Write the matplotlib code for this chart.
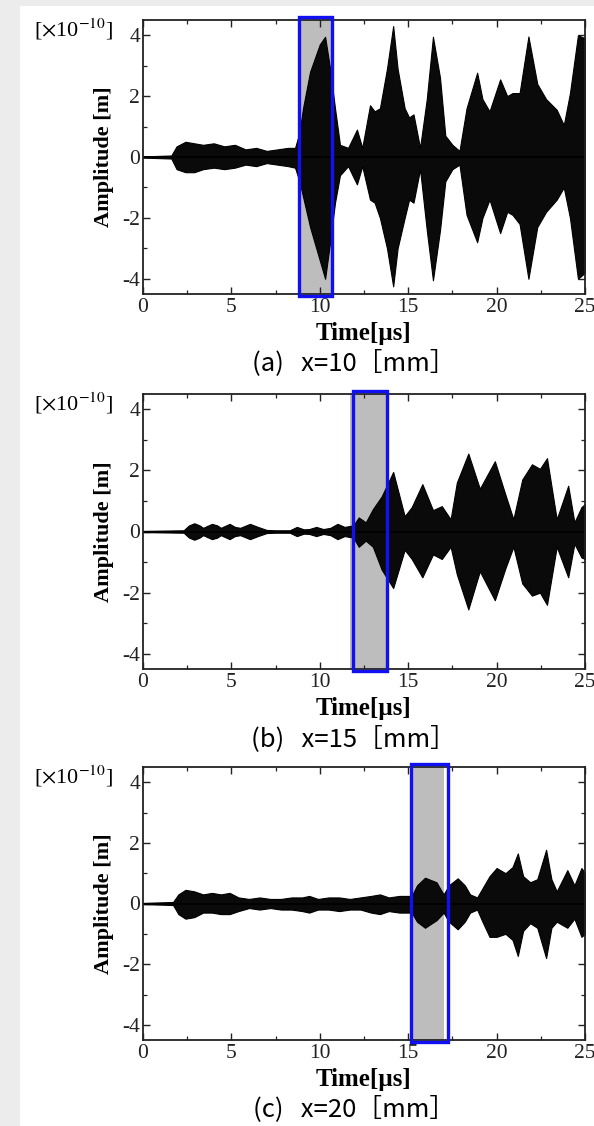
import matplotlib
matplotlib.use("Agg")
import matplotlib.pyplot as plt
from matplotlib.patches import Rectangle
from matplotlib.ticker import MultipleLocator

plt.rcParams['mathtext.fontset'] = 'stix'
plt.rcParams['axes.unicode_minus'] = False

# ---------------- data (envelopes) ----------------
# panel (a) x=10 mm
t_a = [0, 1.6, 1.9, 2.4, 2.9, 3.4, 4.0, 4.6, 5.2, 5.8, 6.4, 7.0, 7.6, 8.2, 8.6,
       8.85, 9.05, 9.45, 10.0, 10.3, 10.58, 10.86, 11.14, 11.6, 12.1, 12.4,
       12.84, 13.1, 13.4, 13.8, 14.15, 14.4, 14.8, 15.05, 15.3, 15.67, 16.05,
       16.4, 16.8, 17.1, 17.5, 17.9, 18.3, 18.9, 19.2, 19.6, 20.2, 20.6, 20.9,
       21.3, 21.8, 22.3, 22.8, 23.4, 23.8, 24.15, 24.6, 25]
up_a = [0.02, 0.05, 0.35, 0.5, 0.45, 0.4, 0.45, 0.35, 0.4, 0.25, 0.3, 0.2, 0.25, 0.3, 0.3,
        0.8, 1.6, 2.8, 3.7, 3.95, 2.9, 1.6, 0.4, 0.3, 0.9, 0.3,
        1.7, 1.5, 1.6, 2.9, 4.3, 2.9, 1.6, 1.3, 1.4, 0.3, 1.9,
        3.95, 2.6, 0.7, 0.4, 0.2, 1.6, 2.77, 1.9, 1.5, 2.55, 2.0, 2.1,
        2.1, 3.96, 2.4, 1.9, 1.55, 1.05, 2.1, 4.0, 3.9]
lo_a = [-0.02, -0.05, -0.4, -0.5, -0.5, -0.4, -0.35, -0.4, -0.35, -0.25, -0.3, -0.2, -0.25, -0.3, -0.35,
        -0.8, -1.3, -2.3, -3.4, -4.0, -2.8, -1.5, -0.6, -0.3, -0.9, -0.3,
        -1.4, -1.5, -2.0, -3.0, -4.25, -3.0, -2.0, -1.4, -1.5, -0.4, -2.4,
        -4.05, -2.4, -0.8, -0.4, -0.25, -1.9, -2.8, -2.0, -1.4, -2.5, -1.8, -1.9,
        -2.2, -4.0, -2.3, -1.8, -1.4, -1.0, -2.0, -4.0, -3.8]

# panel (b) x=15 mm
t_b = [0, 2.3, 2.6, 2.9, 3.2, 3.4, 3.9, 4.2, 4.4, 4.9, 5.2, 5.5, 6.05, 6.5, 7.0,
       7.5, 8.3, 8.7, 9.1, 9.4, 9.8, 10.2, 10.6, 11.0, 11.4, 11.9, 12.2, 12.6,
       13.0, 13.5, 14.15, 14.8, 15.2, 15.8, 16.4, 16.9, 17.4, 17.75, 18.4,
       19.05, 19.9, 20.5, 20.95, 21.45, 22.0, 22.45, 22.85, 23.4, 24.05, 24.4,
       24.8, 25]
up_b = [0.02, 0.04, 0.2, 0.27, 0.2, 0.12, 0.25, 0.2, 0.12, 0.25, 0.15, 0.12, 0.25, 0.15, 0.05,
        0.04, 0.04, 0.15, 0.07, 0.08, 0.15, 0.08, 0.12, 0.25, 0.15, 0.2, 0.46, 0.3,
        0.73, 1.15, 1.95, 0.5, 0.8, 1.55, 0.7, 0.83, 0.4, 1.6, 2.55,
        1.4, 2.3, 1.2, 0.4, 1.7, 2.2, 2.05, 2.4, 0.4, 1.5, 0.3,
        0.8, 0.9]
lo_b = [-0.02, -0.04, -0.2, -0.27, -0.2, -0.12, -0.25, -0.2, -0.12, -0.25, -0.15, -0.12, -0.25, -0.15, -0.05,
        -0.04, -0.04, -0.15, -0.07, -0.08, -0.15, -0.08, -0.12, -0.25, -0.15, -0.2, -0.5, -0.3,
        -0.5, -1.25, -1.85, -0.6, -0.9, -1.5, -0.75, -0.9, -0.5, -1.4, -2.55,
        -1.3, -2.25, -1.2, -0.5, -1.7, -2.1, -2.0, -2.4, -0.5, -1.5, -0.4,
        -0.85, -0.9]

# panel (c) x=20 mm
t_c = [0, 1.7, 2.0, 2.4, 2.9, 3.4, 3.9, 4.4, 4.9, 5.4, 6.0, 6.6, 7.2, 7.8, 8.4,
       9.0, 9.4, 9.9, 10.5, 11.1, 11.7, 12.3, 12.9, 13.4, 13.9, 14.5, 15.2,
       15.5, 15.95, 16.6, 17.0, 17.3, 17.8, 18.2, 18.5, 18.9, 19.2, 19.6, 20.0,
       20.5, 20.9, 21.2, 21.5, 21.9, 22.3, 22.8, 23.1, 23.4, 24.0, 24.4, 24.8, 25]
up_c = [0.02, 0.05, 0.3, 0.45, 0.4, 0.3, 0.35, 0.3, 0.35, 0.2, 0.15, 0.2, 0.15, 0.15, 0.2,
        0.2, 0.25, 0.15, 0.2, 0.2, 0.15, 0.2, 0.25, 0.3, 0.2, 0.25, 0.25,
        0.6, 0.85, 0.7, 0.3, 0.6, 0.83, 0.6, 0.3, 0.2, 0.5, 0.9, 1.17,
        1.0, 1.2, 1.65, 0.9, 0.7, 0.8, 1.77, 0.8, 0.4, 1.1, 0.6, 1.17, 1.0]
lo_c = [-0.02, -0.05, -0.35, -0.5, -0.45, -0.3, -0.3, -0.35, -0.35, -0.25, -0.15, -0.2, -0.15, -0.2, -0.2,
        -0.25, -0.3, -0.2, -0.2, -0.25, -0.2, -0.2, -0.3, -0.35, -0.25, -0.3, -0.3,
        -0.6, -0.8, -0.55, -0.3, -0.6, -0.85, -0.6, -0.3, -0.2, -0.6, -1.1, -1.1,
        -1.0, -1.2, -1.73, -0.9, -0.65, -0.8, -1.8, -0.8, -0.6, -0.8, -0.5, -1.1, -1.0]

captions = ["(a)   x=10［mm］", "(b)   x=15［mm］", "(c)   x=20［mm］"]
box_spans = [(8.8, 10.7), (11.9, 13.8), (15.17, 17.23)]
grey_spans = [(8.8, 10.7), (11.7, 13.8), (15.2, 17.0)]

# ---------------- figure ----------------
W, H = 594, 1126
fig = plt.figure(figsize=(W / 100, H / 100), dpi=100)
fig.patch.set_facecolor('white')
# screenshot margins
fig.add_artist(Rectangle((0, 0), 20 / W, 1, transform=fig.transFigure,
                         facecolor='#ececec', edgecolor='none', zorder=-10))
fig.add_artist(Rectangle((0, 1 - 6 / H), 1, 6 / H, transform=fig.transFigure,
                         facecolor='#ececec', edgecolor='none', zorder=-10))

# axes rectangles in pixels: (left, top, right, bottom)
rects = [(143, 20, 585, 294), (143, 394, 585, 669), (143, 767, 585, 1040)]
series = [(t_a, up_a, lo_a), (t_b, up_b, lo_b), (t_c, up_c, lo_c)]

serif = 'Liberation Serif'
for i, ((l, t, r, b), (tt, up, lo)) in enumerate(zip(rects, series)):
    ax = fig.add_axes([l / W, 1 - b / H, (r - l) / W, (b - t) / H])
    ax.set_xlim(0, 25)
    ax.set_ylim(-4.5, 4.5)
    g0, g1 = grey_spans[i]
    ax.axvspan(g0, g1, color='#bdbdbd', zorder=1, lw=0)
    ax.fill_between(tt, lo, up, facecolor='#0a0a0a', lw=0.8, edgecolor='black', zorder=2)
    ax.plot(tt, [0] * len(tt), color='black', lw=1.2, zorder=2)
    b0, b1 = box_spans[i]
    ax.add_patch(Rectangle((b0, -0.008), b1 - b0, 1.02, transform=ax.get_xaxis_transform(),
                           fill=False, edgecolor='#1010f0', lw=2.4, zorder=5, clip_on=False))

    ax.xaxis.set_major_locator(MultipleLocator(5))
    ax.xaxis.set_minor_locator(MultipleLocator(2.5))
    ax.yaxis.set_major_locator(MultipleLocator(2))
    ax.yaxis.set_minor_locator(MultipleLocator(1))
    ax.tick_params(which='both', direction='in', top=True, right=True, colors='#222222')
    ax.tick_params(which='major', length=5, width=1.0, labelsize=15.5, pad=3)
    ax.tick_params(which='minor', length=3, width=0.9)
    ax.tick_params(axis='y', pad=2)
    for lab in ax.get_xticklabels() + ax.get_yticklabels():
        lab.set_fontfamily(serif)
    for s in ax.spines.values():
        s.set_linewidth(1.3)
        s.set_color('#222222')

    ax.text(-0.088, 0.5, 'Amplitude [m]', transform=ax.transAxes, rotation=90,
            ha='center', va='center', fontsize=16, fontweight='bold', fontfamily=serif)
    ax.text(-0.068, 0.966, r'[$\times$10$^{-10}$]', transform=ax.transAxes,
            ha='right', va='center', fontsize=16, fontfamily=serif)
    ax.text(0.5, -0.143, 'Time[µs]', transform=ax.transAxes, ha='center', va='center',
            fontsize=18, fontweight='bold', fontfamily=serif)
    ax.text(0.477, -0.252, captions[i], transform=ax.transAxes, ha='center', va='center',
            fontsize=18.5, fontfamily=['Noto Sans CJK JP', 'DejaVu Sans'])

fig.savefig('out.png', dpi=100, facecolor=fig.get_facecolor())
